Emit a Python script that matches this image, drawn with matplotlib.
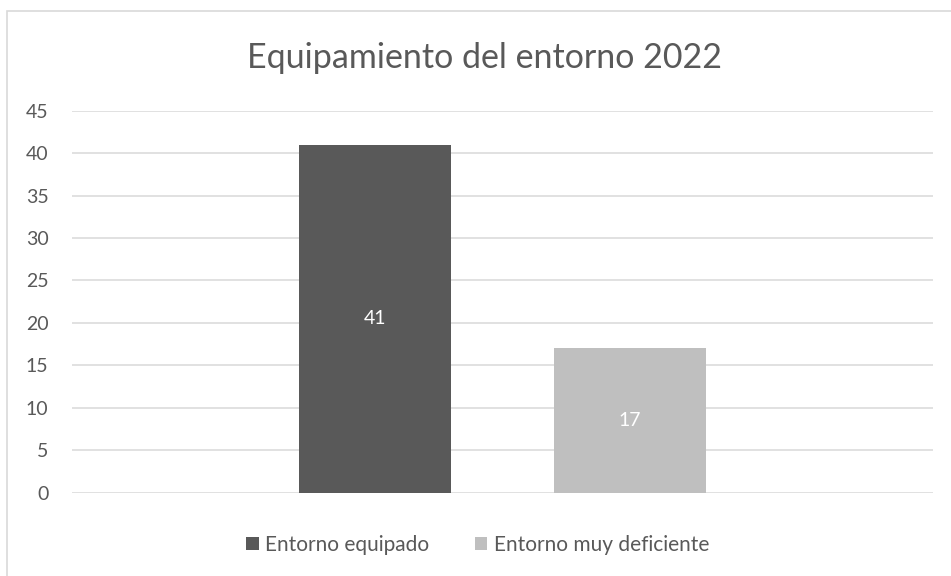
import matplotlib.pyplot as plt
from matplotlib.patches import Rectangle, Patch

# Series of the chart (single category, two series)
series_names = ['Entorno equipado', 'Entorno muy deficiente']
values = [41, 17]
colors = ['#595959', '#BFBFBF']
title = 'Equipamiento del entorno 2022'
yticks = list(range(0, 50, 5))

text_color = '#595959'
grid_color = '#D9D9D9'

plt.rcParams['font.family'] = ['Lato', 'DejaVu Sans']

fig = plt.figure(figsize=(9.51, 5.76), dpi=100)
fig.patch.set_facecolor('white')

# chart frame (right and bottom edges fall outside the image)
fig.patches.append(Rectangle((7 / 951, -0.1), 1.2, 1.1 - 11 / 576,
                             transform=fig.transFigure, fill=False,
                             edgecolor=grid_color, linewidth=1.2))

ax = fig.add_axes([72 / 951, 1 - 492.7 / 576, (933 - 72) / 951, (492.7 - 110.7) / 576])

x = [0, 1]
bars = ax.bar(x, values, width=0.596, color=colors, zorder=3)
ax.set_xlim(-1.188, 2.188)
ax.set_ylim(0, 45)
ax.set_yticks(yticks)
ax.set_xticks([])

for b, v in zip(bars, values):
    ax.text(b.get_x() + b.get_width() / 2, v / 2, str(v), ha='center', va='center',
            color='white', fontsize=14, zorder=4)

ax.grid(axis='y', color=grid_color, linewidth=1.1, zorder=0)
for s in ax.spines.values():
    s.set_visible(False)
ax.tick_params(axis='y', length=0, pad=17, labelsize=14, labelcolor=text_color)

fig.text(484 / 951, 1 - 68 / 576, title, ha='center', va='baseline',
         fontsize=24.5, color=text_color)

handles = [Patch(facecolor=c, edgecolor='none', label=n) for c, n in zip(colors, series_names)]
fig.legend(handles=handles, loc='center', bbox_to_anchor=(477.5 / 951, 1 - 545 / 576),
           ncol=2, frameon=False, fontsize=15, labelcolor=text_color,
           handlelength=0.6, handleheight=0.6, handletextpad=0.3, columnspacing=2.2)

fig.savefig('out.png', dpi=100)
